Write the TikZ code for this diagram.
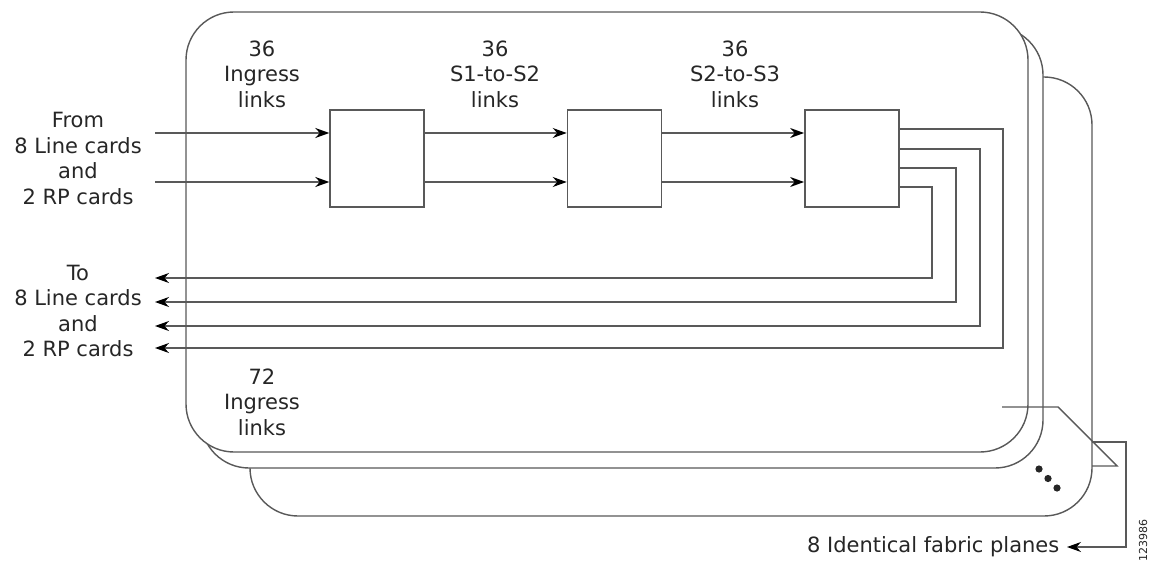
\documentclass[tikz,border=0pt]{standalone}
\usepackage{fontspec}
\setmainfont{DejaVu Sans}
\usetikzlibrary{arrows.meta,positioning,calc}

\begin{document}
\begin{tikzpicture}[x=1pt,y=-1pt,line width=1.4pt,
    plane/.style={draw=black!65,fill=white,rounded corners=48pt},
    stagebox/.style={draw=black!65,fill=white,minimum width=94pt,minimum height=97pt,inner sep=0pt},
    lbl/.style={align=center,inner sep=0pt,text=black!85,font=\fontsize{21}{25.5}\selectfont},
    link/.style={draw=black!65,-{Stealth[length=14pt,width=10pt,black]}}]
    \useasboundingbox (0,0) rectangle (1158,561);
    % the fabric planes, back to front
    \draw[plane] (250,77) rectangle (1092,516);
    \draw[plane] (201,27) rectangle (1043,468);
    \draw[plane] (186,12) rectangle (1028,452);
    % three stages
    \node[stagebox] (stage1) at (377,158.5) {};
    \node[stagebox,right=142pt of stage1] (stage2) {};
    \node[stagebox,right=142pt of stage2] (stage3) {};
    \coordinate (in1) at (155,133);
    \coordinate (in2) at (155,182);
    \foreach \c in {in1,in2}{
        \draw[link] (\c) -- (stage1.west |- \c);
        \draw[link] (stage1.east |- \c) -- (stage2.west |- \c);
        \draw[link] (stage2.east |- \c) -- (stage3.west |- \c);
    }
    % egress links back to the cards
    \foreach \dy/\x/\y/\n in {-29.5/1003/348/1,-9.5/980/326/2,9.5/956/302/3,28.5/932/278/4}{
        \coordinate (out\n) at (155,\y);
        \draw[link] ($(stage3.east)+(0,\dy)$) -| (\x,\y) -- (out\n);
    }
    % labels
    \node[lbl] (fromtxt) at (78,158.5) {From\\8 Line cards\\and\\2 RP cards};
    \node[lbl] (totxt) at (78,311) {To\\8 Line cards\\and\\2 RP cards};
    \node[lbl] (ingress) at (262,74) {36\\Ingress\\links};
    \node[lbl] (s1s2) at (495,74) {36\\S1-to-S2\\links};
    \node[lbl] (s2s3) at (735,74) {36\\S2-to-S3\\links};
    \node[lbl] (egress) at (262,402) {72\\Ingress\\links};
    % callout for the stack of planes
    \draw[draw=black!65] (1002,407) -- (1058,407) -- (1117,466) -- (1092,466);
    \node[lbl,anchor=east,inner xsep=7pt] (planes) at (1067,547) {8 Identical fabric planes};
    \coordinate (bend) at (1126,442);
    \draw[link] (1092,442) -- (bend) |- (planes.east);
    \foreach \p in {(1039,469),(1048,478.5),(1057,488)}
        \fill[black!85] \p circle (3.6pt);
    \node[rotate=90,text=black!85,font=\fontsize{11}{11}\selectfont] (fignum) at (1143,540) {123986};
\end{tikzpicture}
\end{document}
